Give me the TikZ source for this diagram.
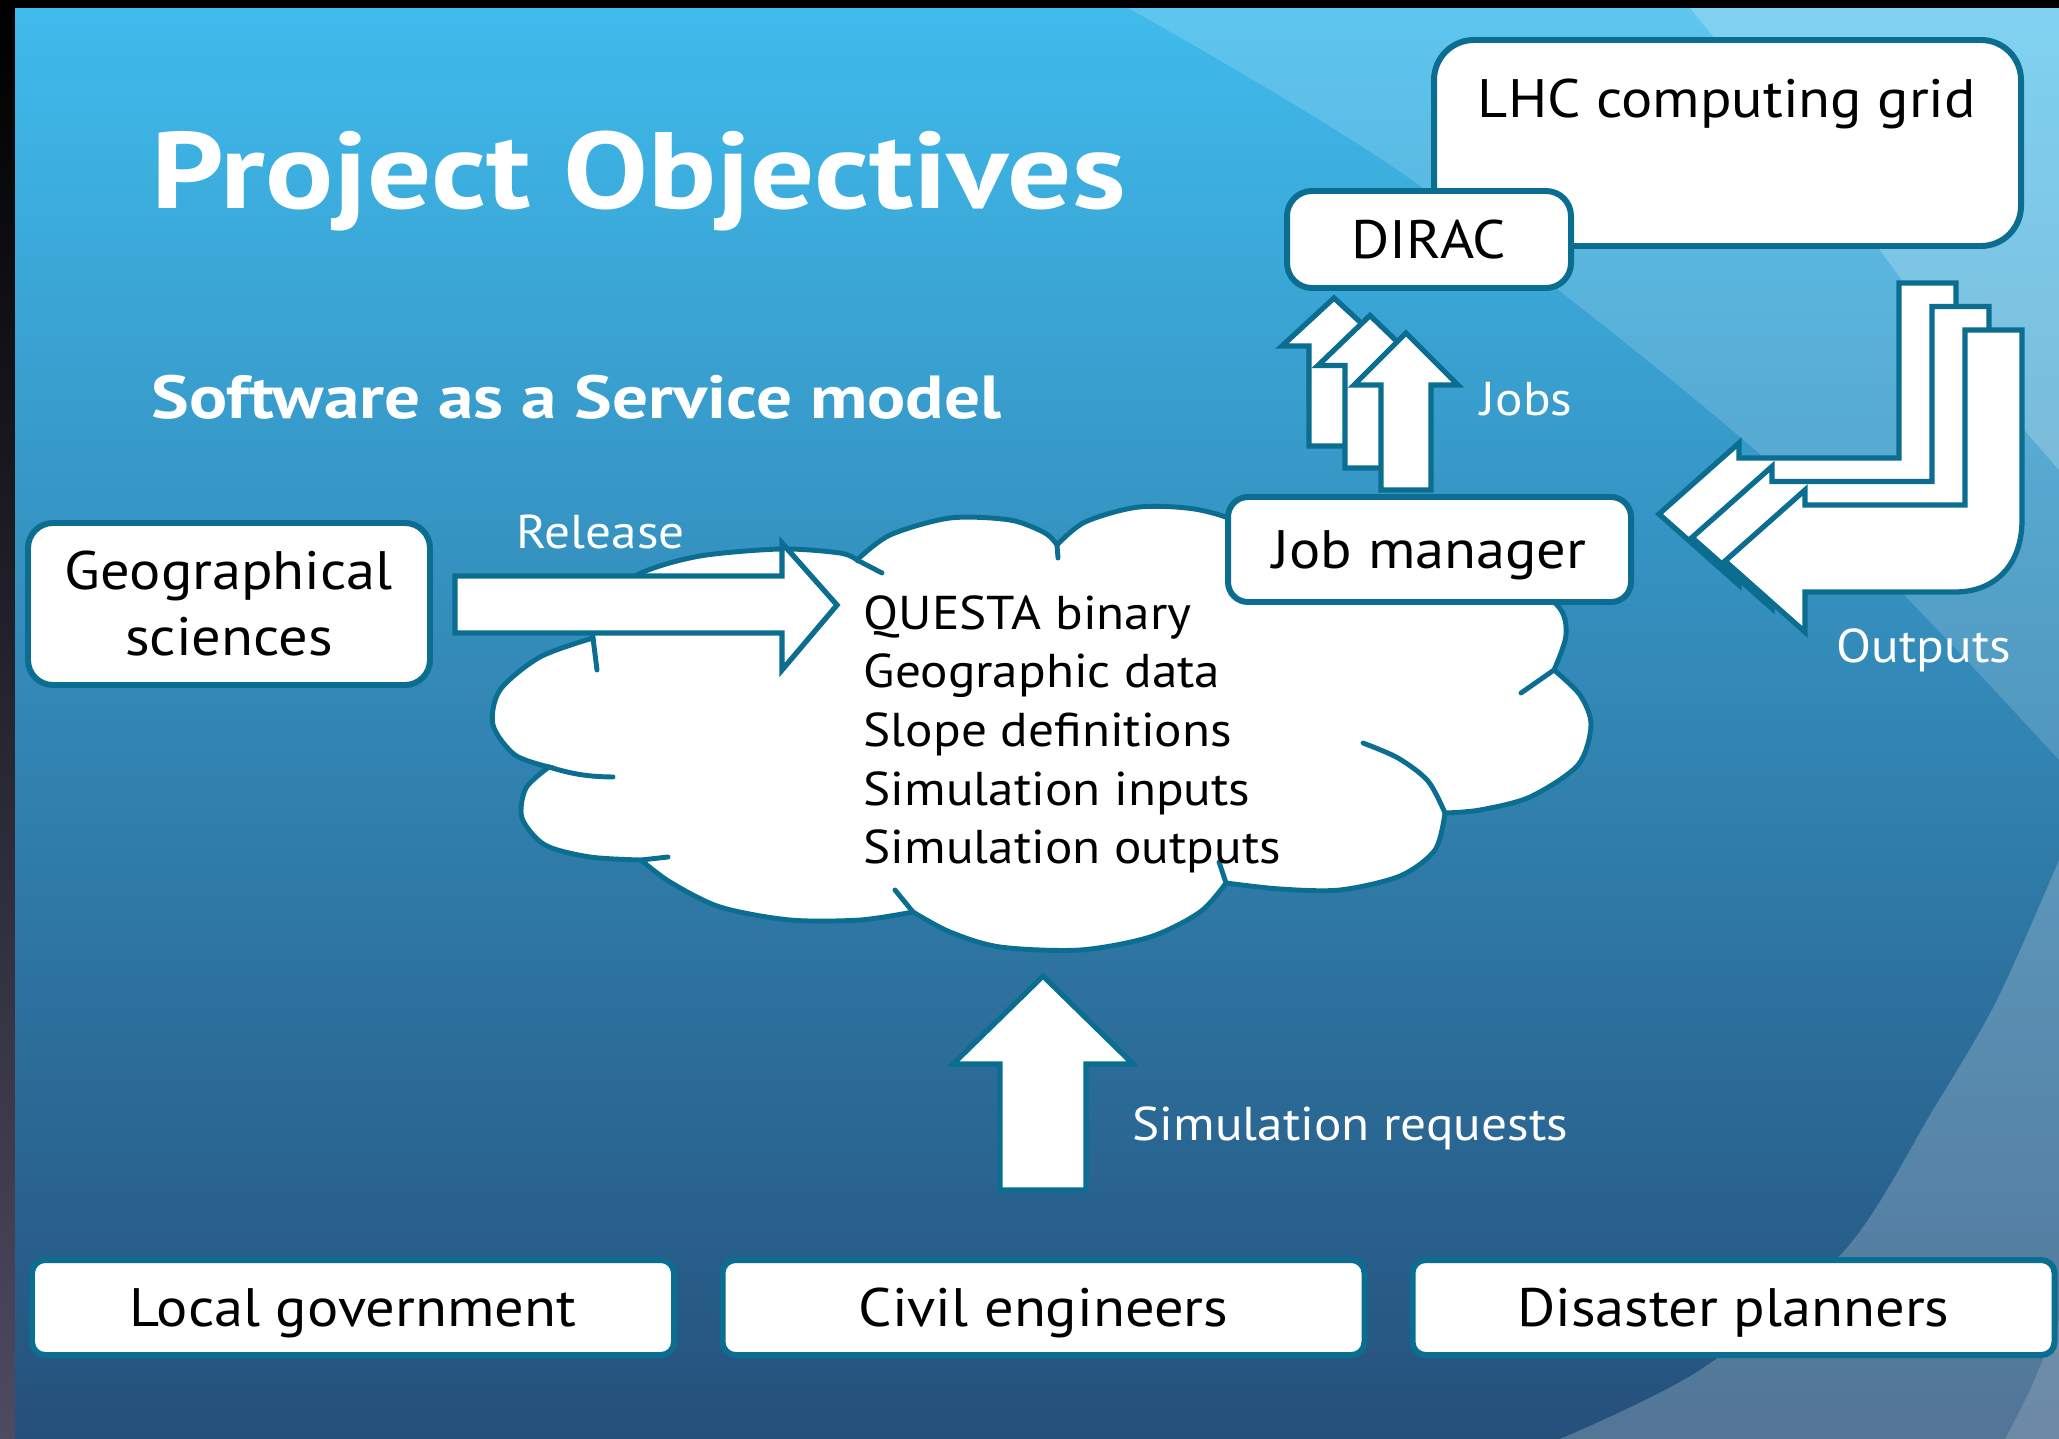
\documentclass[tikz,border=0pt]{standalone}
\usepackage{fontspec}
\setmainfont[FakeStretch=1.08]{PT Sans}
\newfontfamily\headfont[FakeStretch=1.17]{PT Sans}
\usepackage{tikz}

\definecolor{frame}{HTML}{0B6E91}
\definecolor{bgtop}{HTML}{3FBBEC}
\definecolor{bgmid}{HTML}{3494C7}
\definecolor{bgbot}{HTML}{25507B}
\definecolor{edge}{HTML}{4E4A62}

\tikzset{
  box/.style={draw=frame, line width=1.7pt, fill=white, rounded corners=2mm, inner sep=0pt},
  oneline/.style={font=\fontsize{15.4}{18.8}\selectfont, text height=10.8pt, text depth=0pt},
  blockarrow/.style={draw=frame, line width=1.5pt, fill=white, line join=miter},
  cloudline/.style={draw=frame, line width=1.4pt, fill=white},
  hook/.style={draw=frame, line width=1.4pt, line cap=round},
  titletext/.style={text=white, inner sep=0pt, font=\headfont\bfseries\fontsize{30.9}{37}\selectfont},
  subtext/.style={text=white, inner sep=0pt, font=\headfont\bfseries\fontsize{17.3}{21}\selectfont},
  labeltext/.style={text=white, inner sep=0pt, font=\fontsize{13.5}{16}\selectfont},
  cloudtext/.style={inner sep=0pt, font=\fontsize{13.5}{16.7}\selectfont},
}

% block arrow pointing up: centre x, tip y, head base y, foot y, head half width, shaft half width
\newcommand{\blockup}[6]{%
  \draw[blockarrow] (#1-#6,#4) -- (#1-#6,#3) -- (#1-#5,#3) -- (#1,#2)
    -- (#1+#5,#3) -- (#1+#6,#3) -- (#1+#6,#4) -- cycle;}

% bent arrow coming down from the grid and turning left, shifted by (#1,#2)
\newcommand{\blockbent}[2]{%
  \begin{scope}[shift={(#1,#2)}]
    \draw[blockarrow] (1965,330) -- (1965,505) -- (1805,505) -- (1805,490) -- (1725,561)
      -- (1805,632) -- (1805,592) -- (1955,592) .. controls (1995,592) and (2022,565) .. (2022,520)
      -- (2022,330) -- cycle;
  \end{scope}}

\begin{document}
\begin{tikzpicture}[x=0.1mm, y=-0.1mm]
  \useasboundingbox (0,0) rectangle (2059,1439);

  % slide background
  \fill[black] (0,0) rectangle (2059,8);
  \shade[top color=black, bottom color=edge] (0,8) rectangle (15,1439);
  \shade[top color=bgtop, middle color=bgmid, bottom color=bgbot] (15,8) rectangle (2059,1439);
  \fill[white, opacity=.16] plot[smooth] coordinates {(1128,8) (1412,180) (1778,470) (2059,760)} -- (2059,8) -- cycle;
  \fill[white, opacity=.22] plot[smooth] coordinates {(1690,8) (1820,170) (1940,330) (2059,470)} -- (2059,8) -- cycle;
  \fill[white, opacity=.21] plot[smooth] coordinates {(2059,860) (1997,1000) (1933,1110) (1845,1250) (1700,1370) (1560,1439)} -- (2059,1439) -- cycle;
  \fill[white, opacity=.15] plot[smooth] coordinates {(2059,1320) (2030,1390) (2005,1439)} -- (2059,1439) -- cycle;

  % headings
  \node[titletext, anchor=base west] (title) at (151,208) {Project Objectives};
  \node[subtext, anchor=base west] (subtitle) at (151,418) {Software as a Service model};

  % grid side
  \node[box, rounded corners=4mm, minimum width=58.7mm, minimum height=20.6mm] (lhc) at (1727.5,143) {};
  \node[oneline, inner sep=0pt, anchor=base] (lhctext) at (1727,117) {LHC computing grid};
  \node[box, oneline, rounded corners=2.5mm, minimum width=28.4mm, minimum height=9.7mm] (dirac) at (1429,239.5) {DIRAC};

  % jobs going up to DIRAC
  \foreach \i in {0,1,2}
    \blockup{1334+36*\i}{298+17.5*\i}{346+19.5*\i}{446+22*\i}{52}{25};

  % the cloud
  \draw[cloudline]
    plot[smooth] coordinates {(593,638) (598,603) (641,573) (700,556) (781,549) (840,553) (857,560)}
    -- plot[smooth] coordinates {(857,560) (890,535) (950,518) (1010,520) (1045,533) (1057,545)}
    -- plot[smooth] coordinates {(1057,545) (1085,522) (1139,507) (1200,510) (1250,530) (1300,590)}
    -- plot[smooth] coordinates {(1300,590) (1400,560) (1500,568) (1557,605) (1566,635) (1554,670)}
    -- plot[smooth] coordinates {(1554,670) (1580,695) (1591,725) (1578,765) (1530,797) (1480,810) (1445,813)}
    -- plot[smooth] coordinates {(1445,813) (1435,850) (1400,876) (1340,890) (1280,889) (1226,883)}
    -- plot[smooth] coordinates {(1226,883) (1200,912) (1150,937) (1080,950) (1000,947) (950,932) (913,912)}
    -- plot[smooth] coordinates {(913,912) (860,920) (790,920) (720,907) (670,882) (641,860)}
    -- plot[smooth] coordinates {(641,860) (590,857) (545,845) (522,818) (526,788) (549,767)}
    -- plot[smooth] coordinates {(549,767) (515,755) (493,725) (500,690) (540,657) (593,638)}
    -- cycle;
  \draw[hook] (593,638) -- (597,670);
  \draw[hook] (549,767) to[bend right=8] (613,777);
  \draw[hook] (641,860) -- (668,857);
  \draw[hook] (913,912) -- (895,890);
  \draw[hook] (1226,883) -- (1219,862);
  \draw[hook] plot[smooth] coordinates {(1445,813) (1428,781) (1398,758) (1363,743)};
  \draw[hook] (1554,670) -- (1521,693);
  \draw[hook] (1057,545) -- (1058,558);
  \draw[hook] (857,560) -- (882,573);

  \foreach \txt [count=\k from 0] in {QUESTA binary, Geographic data, Slope definitions, Simulation inputs, Simulation outputs}
    \node[cloudtext, anchor=base west] (item\k) at (863,629+58.7*\k) {\txt};

  \node[box, oneline, rounded corners=2mm, minimum width=40.3mm, minimum height=10.5mm] (jobmgr) at (1429.5,549.5) {Job manager};

  % release into the cloud
  \node[box, rounded corners=2.5mm, minimum width=40.2mm, minimum height=16.2mm, align=center,
        font=\fontsize{15.4}{18.8}\selectfont] (geo) at (229,604) {Geographical\\sciences};
  \draw[blockarrow] (455,576) -- (782,576) -- (782,543) -- (837,605) -- (782,670) -- (782,633) -- (455,633) -- cycle;
  \node[labeltext, anchor=base west] (release) at (516,548) {Release};
  \node[labeltext, anchor=base west] (jobs) at (1480,415) {Jobs};

  % outputs coming back from the grid
  \blockbent{-66}{-47}
  \blockbent{-33}{-23.5}
  \blockbent{0}{0}
  \node[labeltext, anchor=base west] (outputs) at (1836,662) {Outputs};

  % users sending requests
  \blockup{1043}{976}{1064}{1190}{90}{43}
  \node[labeltext, anchor=base west] (requests) at (1132,1140) {Simulation requests};

  \node[box, oneline, rounded corners=1.3mm, minimum width=64.2mm, minimum height=9.5mm] (localgov) at (353,1307.5) {Local government};
  \node[box, oneline, rounded corners=1.3mm, minimum width=64.2mm, minimum height=9.5mm] (civil) at (1043.5,1307.5) {Civil engineers};
  \node[box, oneline, rounded corners=1.3mm, minimum width=64.2mm, minimum height=9.5mm] (disaster) at (1733.5,1307.5) {Disaster planners};
\end{tikzpicture}
\end{document}
